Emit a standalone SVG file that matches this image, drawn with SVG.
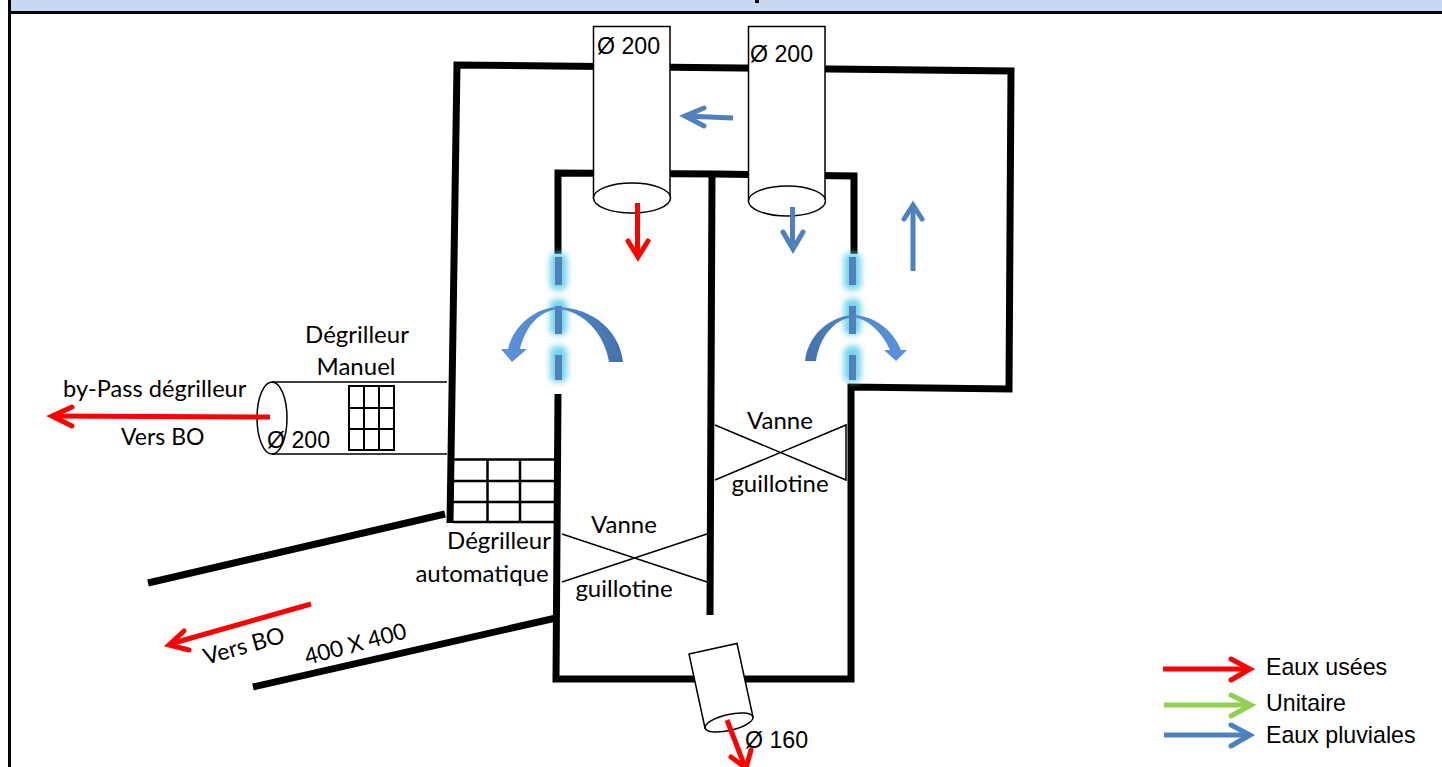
<svg xmlns="http://www.w3.org/2000/svg" width="1442" height="767" viewBox="0 0 1442 767">
<defs>
<filter id="glow" x="-100%" y="-50%" width="300%" height="200%"><feGaussianBlur stdDeviation="3"/></filter>
<linearGradient id="arcL" x1="0" x2="1" y1="0" y2="0"><stop offset="0" stop-color="#5B92DC"/><stop offset="0.5" stop-color="#5088cc"/><stop offset="1" stop-color="#4472AB"/></linearGradient>
<linearGradient id="arcR" x1="0" x2="1" y1="0" y2="0"><stop offset="0" stop-color="#4472AB"/><stop offset="0.5" stop-color="#5088cc"/><stop offset="1" stop-color="#5B92DC"/></linearGradient>
</defs>
<style>
.w{fill:none;stroke:#000;stroke-width:7}
.t{fill:none;stroke:#000;stroke-width:1.5}
.g{fill:none;stroke:#000;stroke-width:2}
.ga{fill:none;stroke:#000;stroke-width:2.5}
.cyl{fill:#fff;stroke:#000;stroke-width:1.5}
.r,.b,.gr{fill:none;stroke-width:5;stroke-linecap:butt;stroke-linejoin:miter}
.r{stroke:#FF0000}
.b{stroke:#4F81BD}
.gr{stroke:#92D050}
.h{stroke-linecap:round}
text{font-family:"Liberation Sans",Arial,sans-serif;font-size:23.2px;fill:#000}
.c{font-family:"Lato","Noto Sans",sans-serif;font-size:24px}
.s{font-size:23.6px}
.v{font-size:23px}
.x{font-size:22.5px}
.m{text-anchor:middle}
.glow{fill:#6FD3E8;filter:url(#glow)}
.gate{fill:#4F81BD}
</style>
<g id="header">
<rect x="11" y="0" width="1431" height="11" fill="#C6D9F1"/>
<path d="M8 12.500H1442" stroke="#000" stroke-width="3"/>
<path d="M9.500 0V767" stroke="#000" stroke-width="3"/>
<rect x="755" y="0" width="4" height="3" fill="#000"/>
</g>
<g id="connectors">
<path class="w" d="M450 523L457 65L1011 71L1009 389L851 387L851 679H556L558 394"/>
<path class="w" d="M558 254V173L716 174L854 176V254"/>
<path class="w" d="M712 174L710 615"/>
<path class="w" d="M148 583L445 514"/>
<path class="w" d="M253 687L556 618"/>
</g>
<g id="bypass-pipe">
<path class="t" d="M272 382H447M272 454H447"/>
<ellipse class="t" cx="272" cy="418" rx="15" ry="36"/>
</g>
<g id="grid-manual">
<path class="g" d="M349 386H394V450H349ZM349 408H394M349 429H394M364 386V450M379 386V450"/>
</g>
<g id="grid-auto">
<path class="ga" d="M453 459.500H555M453 522H555M453 481H555M453 502H555M487.500 460V522M520 460V522"/>
</g>
<g id="pipe-1">
<path class="cyl" d="M593.500 198V26.500H670V198Z"/>
<ellipse class="cyl" cx="632" cy="198" rx="38.500" ry="15"/>
</g>
<g id="pipe-2">
<path class="cyl" d="M748.500 201V26.500H825V201Z"/>
<ellipse class="cyl" cx="787" cy="201" rx="38.500" ry="15"/>
</g>
<g id="pipe-3">
<path class="cyl" d="M689 654L737 643.500L753 717L705 728Z"/>
<ellipse class="cyl" cx="729" cy="722.500" rx="24.500" ry="8" transform="rotate(-13 729 722.500)"/>
</g>
<g id="valve-1">
<path class="t" d="M562 534L707 582M707 534L562 582"/>
</g>
<g id="valve-2">
<path class="t" d="M715 425L846 480V425L715 480"/>
</g>
<g id="gates-left">
<rect class="glow" x="550" y="253" width="17" height="37" rx="6"/>
<rect class="glow" x="550" y="299" width="17" height="36" rx="6"/>
<rect class="glow" x="550" y="346" width="17" height="36" rx="6"/>
<rect class="gate" x="555" y="257" width="7" height="28"/>
<rect class="gate" x="555" y="306" width="7" height="28"/>
<rect class="gate" x="555" y="355" width="7" height="25"/>
<path fill="url(#arcL)" d="M508 349C514 325 535 308 558 307C594 308 620 332 623 362H609C605 336 585 311 558 309C540 311 526 325 520 349H527L512 362L501 349Z"/>
</g>
<g id="gates-right">
<rect class="glow" x="844" y="253" width="17" height="37" rx="6"/>
<rect class="glow" x="844" y="299" width="17" height="36" rx="6"/>
<rect class="glow" x="844" y="346" width="17" height="36" rx="6"/>
<rect class="gate" x="849" y="257" width="7" height="28"/>
<rect class="gate" x="849" y="306" width="7" height="28"/>
<rect class="gate" x="849" y="355" width="7" height="25"/>
<path fill="url(#arcR)" d="M805 361C808 335 830 316 853 315C875 316 893 330 901 350H907L896 361L884 350H890C882 332 868 319 853 317C835 319 820 336 816 361Z"/>
</g>
<g id="flow-arrows">
<path class="r" d="M637.500 203V257"/><path class="r h" d="M628 241L638 257L648 241"/>
<path class="b" d="M792.500 207V249"/><path class="b h" d="M783 232L793 249L803 232"/>
<path class="b" d="M733 118L685 116"/><path class="b h" d="M704 108L685 116L704 126"/>
<path class="b" d="M913 271V206"/><path class="b h" d="M904 219L913 205L922 219"/>
<path class="r" d="M270 417L52 416"/><path class="r h" d="M72 407L52 416L72 426"/>
<path class="r" d="M311 604L170 644"/><path class="r h" d="M184 631L169 645L189 650"/>
<path class="r" d="M727 720L745 767"/><path class="r h" d="M731 757L746 768L751 750"/>
</g>
<g id="labels">
<text class="c m" x="357" y="343">Dégrilleur</text>
<text class="c m" x="356" y="375">Manuel</text>
<text class="c s" x="63" y="397">by-Pass dégrilleur</text>
<text class="c v" x="121" y="445">Vers BO</text>
<text x="267" y="448">Ø 200</text>
<text x="597" y="54">Ø 200</text>
<text x="750" y="62">Ø 200</text>
<text x="745" y="748">Ø 160</text>
<text class="c m" x="499" y="549">Dégrilleur</text>
<text class="c m" x="482" y="582">automatique</text>
<text class="c m" x="624" y="533">Vanne</text>
<text class="c m" x="624" y="597">guillotine</text>
<text class="c m" x="780" y="429">Vanne</text>
<text class="c m" x="780" y="492">guillotine</text>
<text class="c v" transform="translate(206 665) rotate(-16)">Vers BO</text>
<text class="c x" transform="translate(307 665) rotate(-15)">400 X 400</text>
</g>
<g id="legend">
<path class="r" d="M1163 669H1250"/><path class="r h" d="M1231 659L1250 669L1231 680"/>
<path class="gr" d="M1164 705H1250"/><path class="gr h" d="M1231 695L1251 705L1231 716"/>
<path class="b" d="M1164 735H1250"/><path class="b h" d="M1231 725L1250 735L1231 746"/>
<text x="1266" y="675">Eaux usées</text>
<text x="1266" y="711">Unitaire</text>
<text x="1266" y="743">Eaux pluviales</text>
</g>
</svg>
